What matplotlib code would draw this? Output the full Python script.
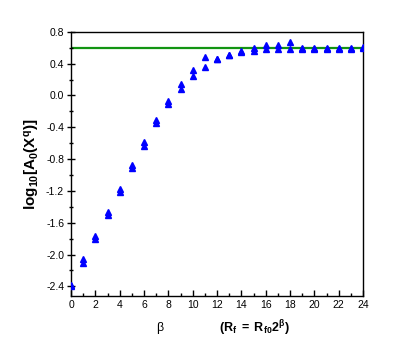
import matplotlib
matplotlib.use("Agg")
import matplotlib.pyplot as plt
from matplotlib.ticker import MultipleLocator

plt.rcParams['font.family'] = ['Liberation Sans', 'DejaVu Sans']
plt.rcParams['mathtext.fontset'] = 'custom'
plt.rcParams['mathtext.rm'] = 'Liberation Sans'
plt.rcParams['mathtext.it'] = 'Liberation Sans:italic'
plt.rcParams['mathtext.bf'] = 'Liberation Sans:bold'

beta = list(range(0, 25))
series_a = [-2.38, -2.06, -1.77, -1.46, -1.17, -0.88, -0.59, -0.31, -0.07, 0.14,
            0.32, 0.48, 0.46, 0.51, 0.56, 0.60, 0.64, 0.64, 0.67, 0.60,
            0.60, 0.60, 0.60, 0.60, 0.61]
series_b = [-2.39, -2.10, -1.80, -1.50, -1.21, -0.91, -0.63, -0.35, -0.11, 0.08,
            0.25, 0.36, 0.46, 0.51, 0.55, 0.56, 0.58, 0.59, 0.59, 0.59,
            0.59, 0.59, 0.59, 0.59, 0.60]
ref_level = 0.6

fig = plt.figure(figsize=(3.99, 3.54), dpi=100)
ax = fig.add_axes([0.178, 0.164, 0.732, 0.746])

ax.axhline(ref_level, color='#129412', lw=1.6, zorder=1)
ax.plot(beta, series_a, linestyle='none', marker='^', color='#0000ff', ms=5, zorder=3)
ax.plot(beta, series_b, linestyle='none', marker='^', color='#0000ff', ms=5, zorder=3)

ax.set_xlim(0, 24)
ax.set_ylim(-2.52, 0.8)
ax.xaxis.set_major_locator(MultipleLocator(2))
ax.xaxis.set_minor_locator(MultipleLocator(1))
ax.yaxis.set_minor_locator(MultipleLocator(0.2))
ax.set_yticks([0.8, 0.4, 0.0, -0.4, -0.8, -1.2, -1.6, -2.0, -2.4])
ax.set_yticklabels(['0.8', '0.4', '0.0', '-0.4', '-0.8', '-1.2', '-1.6', '-2.0', '-2.4'])
ax.tick_params(axis='x', which='major', direction='in', length=4, width=1, labelsize=7.5, pad=3)
ax.tick_params(axis='x', which='minor', direction='in', length=2, width=1)
ax.tick_params(axis='y', which='major', direction='inout', length=6, width=1, labelsize=7.5, pad=2)
ax.tick_params(axis='y', which='minor', direction='inout', length=3, width=1)
for s in ax.spines.values():
    s.set_linewidth(1.0)

ax.set_ylabel(r'$\mathbf{log_{10}[A_0(X^q)]}$', fontsize=11, labelpad=3)
fig.text(160/399, 1 - 328/354, 'β', fontsize=9, ha='center', va='center')
fig.text(254/399, 1 - 328/354, r'$\mathbf{(R_f\ =\ R_{f0}2^{\beta})}$', fontsize=9, ha='center', va='center')

fig.savefig('out.png', dpi=100)
